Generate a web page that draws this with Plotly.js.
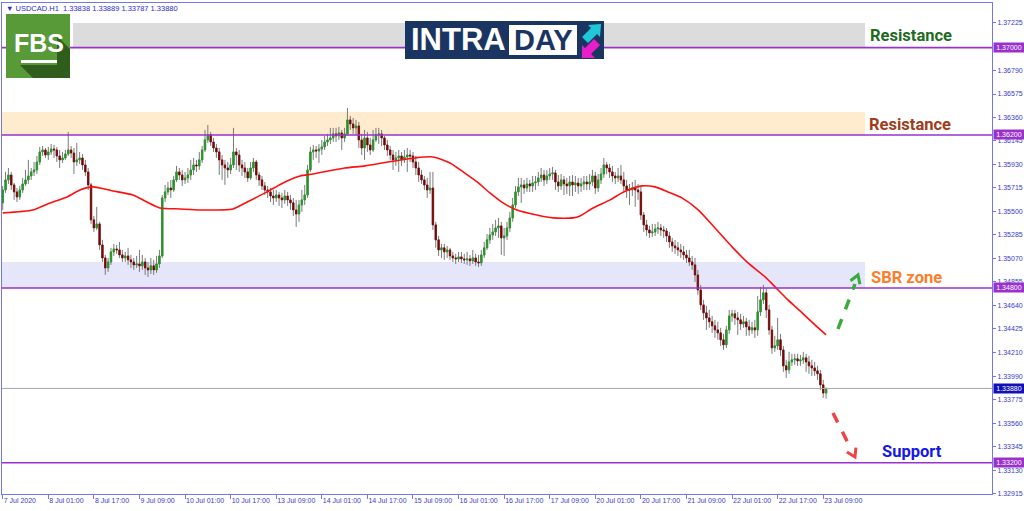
<!DOCTYPE html>
<html><head><meta charset="utf-8">
<script src="https://cdn.plot.ly/plotly-3.0.1.min.js"></script>
<style>html,body{margin:0;padding:0;background:#fff}#chart{width:1024px;height:511px}</style>
</head><body><div id="chart"></div>
<script>
// ---- data (USDCAD H1) ----
const openP = [
1.35579,1.35697,1.35789,1.35834,1.35743,1.35679,1.35633,1.35697,1.35752,1.35789,
1.35825,1.35862,1.35880,1.35953,1.36045,1.36063,1.36017,1.36045,1.36072,1.36063,
1.36008,1.35972,1.35990,1.36026,1.36063,1.36035,1.35953,1.35972,1.35990,1.35926,
1.35862,1.35743,1.35423,1.35349,1.35386,1.35194,1.35075,1.34983,1.35038,1.35130,
1.35157,1.35148,1.35102,1.35075,1.35093,1.35057,1.35038,1.35011,1.35020,1.35002,
1.35038,1.34983,1.34965,1.35002,1.34965,1.35020,1.35093,1.35624,1.35679,1.35715,
1.35697,1.35789,1.35862,1.35834,1.35789,1.35807,1.35834,1.35880,1.35926,1.35917,
1.35972,1.36063,1.36155,1.36201,1.36136,1.36081,1.36045,1.35972,1.35926,1.35898,
1.35880,1.35926,1.36045,1.36017,1.35926,1.35898,1.35862,1.35807,1.35898,1.35953,
1.35834,1.35789,1.35734,1.35697,1.35679,1.35642,1.35624,1.35651,1.35624,1.35606,
1.35642,1.35606,1.35579,1.35514,1.35477,1.35560,1.35606,1.35651,1.35880,1.36045,
1.36063,1.36054,1.36072,1.36091,1.36136,1.36155,1.36173,1.36210,1.36192,1.36219,
1.36173,1.36210,1.36338,1.36301,1.36265,1.36283,1.36155,1.36081,1.36173,1.36109,
1.36063,1.36155,1.36201,1.36210,1.36173,1.36109,1.36063,1.36017,1.35972,1.35990,
1.36008,1.35972,1.35999,1.36017,1.36008,1.35953,1.35898,1.35834,1.35789,1.35743,
1.35697,1.35715,1.35377,1.35240,1.35148,1.35167,1.35130,1.35148,1.35093,1.35075,
1.35066,1.35084,1.35066,1.35057,1.35066,1.35048,1.35075,1.35038,1.35029,1.35102,
1.35167,1.35240,1.35285,1.35313,1.35349,1.35368,1.35258,1.35276,1.35349,1.35441,
1.35560,1.35679,1.35725,1.35743,1.35715,1.35752,1.35734,1.35761,1.35770,1.35807,
1.35834,1.35789,1.35825,1.35843,1.35853,1.35770,1.35734,1.35789,1.35752,1.35734,
1.35770,1.35743,1.35761,1.35734,1.35752,1.35770,1.35752,1.35770,1.35825,1.35715,
1.35789,1.35843,1.35926,1.35898,1.35862,1.35825,1.35807,1.35825,1.35789,1.35734,
1.35697,1.35697,1.35715,1.35697,1.35679,1.35468,1.35377,1.35331,1.35304,1.35313,
1.35340,1.35349,1.35331,1.35322,1.35276,1.35221,1.35185,1.35167,1.35148,1.35130,
1.35102,1.35075,1.35038,1.35011,1.34919,1.34782,1.34645,1.34572,1.34526,1.34490,
1.34453,1.34416,1.34389,1.34325,1.34279,1.34416,1.34544,1.34563,1.34526,1.34508,
1.34471,1.34490,1.34444,1.34416,1.34435,1.34416,1.34581,1.34691,1.34755,1.34599,
1.34416,1.34252,1.34270,1.34325,1.34233,1.34087,1.34050,1.34123,1.34142,1.34151,
1.34132,1.34142,1.34160,1.34123,1.34087,1.34068,1.34041,1.34014,1.33913,1.33838];
const highP = [
1.35734,1.35862,1.35898,1.35862,1.35761,1.35715,1.35734,1.35807,1.35880,1.35972,
1.35898,1.35953,1.36008,1.36091,1.36100,1.36081,1.36091,1.36118,1.36109,1.36091,
1.36063,1.36045,1.36063,1.36228,1.36100,1.36081,1.36127,1.36045,1.36026,1.35972,
1.35898,1.35761,1.35459,1.35542,1.35405,1.35240,1.35102,1.35075,1.35167,1.35203,
1.35194,1.35221,1.35148,1.35130,1.35167,1.35102,1.35075,1.35093,1.35148,1.35102,
1.35075,1.35038,1.35075,1.35057,1.35093,1.35148,1.35651,1.35743,1.35770,1.35789,
1.35825,1.35917,1.35898,1.35880,1.35862,1.35898,1.35972,1.35990,1.35972,1.36045,
1.36100,1.36246,1.36292,1.36228,1.36173,1.36118,1.36081,1.36017,1.35972,1.35953,
1.35990,1.36265,1.36081,1.36063,1.35972,1.35953,1.35898,1.35953,1.35990,1.35972,
1.35862,1.35825,1.35770,1.35734,1.35715,1.35697,1.35697,1.35679,1.35670,1.35697,
1.35679,1.35651,1.35624,1.35606,1.35606,1.35697,1.35743,1.35926,1.36091,1.36109,
1.36100,1.36118,1.36155,1.36192,1.36210,1.36265,1.36265,1.36265,1.36274,1.36246,
1.36265,1.36447,1.36374,1.36356,1.36338,1.36319,1.36210,1.36246,1.36228,1.36173,
1.36246,1.36265,1.36265,1.36246,1.36192,1.36155,1.36100,1.36063,1.36045,1.36063,
1.36045,1.36063,1.36081,1.36063,1.36045,1.36008,1.35953,1.35880,1.35825,1.35807,
1.35862,1.35862,1.35405,1.35276,1.35203,1.35203,1.35185,1.35167,1.35130,1.35112,
1.35130,1.35130,1.35112,1.35130,1.35102,1.35148,1.35112,1.35102,1.35148,1.35221,
1.35294,1.35349,1.35386,1.35423,1.35441,1.35405,1.35349,1.35405,1.35496,1.35624,
1.35734,1.35807,1.35807,1.35789,1.35807,1.35789,1.35825,1.35825,1.35862,1.35898,
1.35880,1.35880,1.35898,1.35908,1.35880,1.35834,1.35843,1.35825,1.35807,1.35825,
1.35834,1.35825,1.35807,1.35807,1.35825,1.35825,1.35843,1.35880,1.35862,1.35843,
1.35898,1.35990,1.35953,1.35935,1.35917,1.35862,1.35898,1.35926,1.35862,1.35789,
1.35752,1.35770,1.35789,1.35752,1.35734,1.35496,1.35423,1.35368,1.35386,1.35386,
1.35405,1.35386,1.35368,1.35349,1.35313,1.35258,1.35240,1.35221,1.35203,1.35185,
1.35148,1.35148,1.35093,1.35075,1.34965,1.34828,1.34691,1.34636,1.34599,1.34544,
1.34508,1.34490,1.34435,1.34380,1.34453,1.34599,1.34599,1.34599,1.34581,1.34563,
1.34544,1.34526,1.34508,1.34490,1.34508,1.34727,1.34810,1.34828,1.34800,1.34645,
1.34453,1.34362,1.34526,1.34380,1.34270,1.34142,1.34215,1.34197,1.34197,1.34197,
1.34187,1.34215,1.34197,1.34178,1.34142,1.34123,1.34087,1.34050,1.33959,1.33889];
const lowP = [
1.35514,1.35670,1.35752,1.35697,1.35606,1.35587,1.35606,1.35670,1.35734,1.35752,
1.35789,1.35825,1.35843,1.35926,1.36008,1.35990,1.35972,1.36017,1.35990,1.35953,
1.35898,1.35944,1.35972,1.36008,1.35990,1.35843,1.35917,1.35935,1.35880,1.35825,
1.35697,1.35386,1.35313,1.35331,1.35148,1.35038,1.34919,1.34947,1.35011,1.35093,
1.35112,1.35075,1.35038,1.35038,1.35011,1.34983,1.34965,1.34983,1.34947,1.34965,
1.34919,1.34901,1.34928,1.34919,1.34938,1.34983,1.35075,1.35587,1.35651,1.35624,
1.35679,1.35770,1.35789,1.35734,1.35752,1.35761,1.35789,1.35834,1.35862,1.35880,
1.35944,1.36045,1.36127,1.36100,1.36045,1.35990,1.35834,1.35789,1.35743,1.35807,
1.35843,1.35898,1.35880,1.35862,1.35825,1.35807,1.35770,1.35789,1.35862,1.35789,
1.35734,1.35697,1.35651,1.35624,1.35587,1.35560,1.35587,1.35551,1.35532,1.35569,
1.35551,1.35514,1.35459,1.35359,1.35405,1.35496,1.35560,1.35624,1.35862,1.35972,
1.35990,1.35944,1.36017,1.36063,1.36100,1.36118,1.36136,1.36136,1.36155,1.36063,
1.36136,1.36192,1.36246,1.36210,1.36201,1.36081,1.36017,1.35972,1.36045,1.36017,
1.36045,1.36136,1.36118,1.36100,1.36063,1.36008,1.35972,1.35880,1.35917,1.35862,
1.35917,1.35944,1.35862,1.35953,1.35898,1.35834,1.35770,1.35752,1.35697,1.35624,
1.35661,1.35331,1.35167,1.35093,1.35075,1.35057,1.35075,1.35057,1.35038,1.35020,
1.35038,1.35029,1.35020,1.35011,1.35002,1.35020,1.35002,1.34992,1.35002,1.35075,
1.35148,1.35203,1.35240,1.35276,1.35258,1.35102,1.35093,1.35240,1.35313,1.35405,
1.35532,1.35642,1.35578,1.35661,1.35679,1.35679,1.35679,1.35697,1.35734,1.35770,
1.35734,1.35752,1.35789,1.35789,1.35697,1.35679,1.35697,1.35651,1.35661,1.35642,
1.35642,1.35679,1.35661,1.35679,1.35697,1.35697,1.35697,1.35734,1.35661,1.35679,
1.35752,1.35807,1.35843,1.35807,1.35770,1.35752,1.35770,1.35752,1.35679,1.35624,
1.35560,1.35642,1.35542,1.35606,1.35423,1.35313,1.35276,1.35258,1.35267,1.35276,
1.35294,1.35276,1.35258,1.35221,1.35167,1.35130,1.35112,1.35093,1.35075,1.35057,
1.35029,1.35002,1.34965,1.34855,1.34737,1.34599,1.34508,1.34416,1.34435,1.34389,
1.34343,1.34325,1.34270,1.34233,1.34252,1.34380,1.34490,1.34462,1.34371,1.34416,
1.34435,1.34362,1.34362,1.34380,1.34343,1.34362,1.34544,1.34654,1.34526,1.34371,
1.34197,1.34215,1.34233,1.34178,1.34032,1.33977,1.34014,1.34087,1.34096,1.34087,
1.34087,1.34105,1.34032,1.34014,1.33995,1.33995,1.33959,1.33867,1.33794,1.33787];
const closeP = [
1.35697,1.35789,1.35834,1.35743,1.35679,1.35633,1.35697,1.35752,1.35789,1.35825,
1.35862,1.35880,1.35953,1.36045,1.36063,1.36017,1.36045,1.36072,1.36063,1.36008,
1.35972,1.35990,1.36026,1.36063,1.36035,1.35953,1.35972,1.35990,1.35926,1.35862,
1.35743,1.35423,1.35349,1.35386,1.35194,1.35075,1.34983,1.35038,1.35130,1.35157,
1.35148,1.35102,1.35075,1.35093,1.35057,1.35038,1.35011,1.35020,1.35002,1.35038,
1.34983,1.34965,1.35002,1.34965,1.35020,1.35093,1.35624,1.35679,1.35715,1.35697,
1.35789,1.35862,1.35834,1.35789,1.35807,1.35834,1.35880,1.35926,1.35917,1.35972,
1.36063,1.36155,1.36201,1.36136,1.36081,1.36045,1.35972,1.35926,1.35898,1.35880,
1.35926,1.36045,1.36017,1.35926,1.35898,1.35862,1.35807,1.35898,1.35953,1.35834,
1.35789,1.35734,1.35697,1.35679,1.35642,1.35624,1.35651,1.35624,1.35606,1.35642,
1.35606,1.35579,1.35514,1.35477,1.35560,1.35606,1.35651,1.35880,1.36045,1.36063,
1.36054,1.36072,1.36091,1.36136,1.36155,1.36173,1.36210,1.36192,1.36219,1.36173,
1.36210,1.36338,1.36301,1.36265,1.36283,1.36155,1.36081,1.36173,1.36109,1.36063,
1.36155,1.36201,1.36210,1.36173,1.36109,1.36063,1.36017,1.35972,1.35990,1.36008,
1.35972,1.35999,1.36017,1.36008,1.35953,1.35898,1.35834,1.35789,1.35743,1.35697,
1.35715,1.35377,1.35240,1.35148,1.35167,1.35130,1.35148,1.35093,1.35075,1.35066,
1.35084,1.35066,1.35057,1.35066,1.35048,1.35075,1.35038,1.35029,1.35102,1.35167,
1.35240,1.35285,1.35313,1.35349,1.35368,1.35258,1.35276,1.35349,1.35441,1.35560,
1.35679,1.35725,1.35743,1.35715,1.35752,1.35734,1.35761,1.35770,1.35807,1.35834,
1.35789,1.35825,1.35843,1.35853,1.35770,1.35734,1.35789,1.35752,1.35734,1.35770,
1.35743,1.35761,1.35734,1.35752,1.35770,1.35752,1.35770,1.35825,1.35715,1.35789,
1.35843,1.35926,1.35898,1.35862,1.35825,1.35807,1.35825,1.35789,1.35734,1.35697,
1.35697,1.35715,1.35697,1.35679,1.35468,1.35377,1.35331,1.35304,1.35313,1.35340,
1.35349,1.35331,1.35322,1.35276,1.35221,1.35185,1.35167,1.35148,1.35130,1.35102,
1.35075,1.35038,1.35011,1.34919,1.34782,1.34645,1.34572,1.34526,1.34490,1.34453,
1.34416,1.34389,1.34325,1.34279,1.34416,1.34544,1.34563,1.34526,1.34508,1.34471,
1.34490,1.34444,1.34416,1.34435,1.34416,1.34581,1.34691,1.34755,1.34599,1.34416,
1.34252,1.34270,1.34325,1.34233,1.34087,1.34050,1.34123,1.34142,1.34151,1.34132,
1.34142,1.34160,1.34123,1.34087,1.34068,1.34041,1.34014,1.33913,1.33838,1.33880];

// moving average (red line), sampled along the bars
const maBar = [0,10.6,16.6,22.6,27.1,31.7,38.7,45.7,50.6,55.2,62.2,69.3,80.8,85.8,92.8,98.4,104.4,108.9,120.1,127.2,
135.2,144.7,151,157,161.6,166.5,171,175.6,180.5,187.5,193.2,200.2,202.6,207.2,213.2,216.7,219.5,224.4,229,233.5,
238.4,244.1,250,256,261.6,267.6,271.1,275.6,280.6,285.1,289];
const maVal = [1.35487,1.35514,1.35578,1.35633,1.35697,1.35725,1.35688,1.35651,1.35587,1.35532,
1.35523,1.35514,1.35523,1.35587,1.35679,1.35761,1.35825,1.35843,1.35898,1.35917,
1.35953,1.35990,1.35999,1.35944,1.35862,1.35770,1.35670,1.35578,1.35514,1.35468,
1.35441,1.35441,1.35459,1.35532,1.35606,1.35661,1.35697,1.35734,1.35725,1.35679,
1.35624,1.35514,1.35349,1.35176,1.35029,1.34901,1.34810,1.34691,1.34572,1.34462,1.34371];

const timeTickBars = [0,16,32,48,64,80,96,112,128,144,160,176,192,208,224,240,256,272,288];
const timeTickLabels = ['7 Jul 2020','8 Jul 01:00','8 Jul 17:00','9 Jul 09:00','10 Jul 01:00','10 Jul 17:00',
'13 Jul 09:00','14 Jul 01:00','14 Jul 17:00','15 Jul 09:00','16 Jul 01:00','16 Jul 17:00','17 Jul 09:00',
'20 Jul 01:00','20 Jul 17:00','21 Jul 09:00','22 Jul 01:00','22 Jul 17:00','23 Jul 09:00'];
const priceTicks = [1.37225,1.36790,1.36575,1.36360,1.36145,1.35930,1.35715,1.35500,1.35285,1.35070,
1.34855,1.34640,1.34425,1.34210,1.33990,1.33775,1.33560,1.33345,1.33130,1.32915];

const levelPrices = [1.37000,1.36200,1.34800,1.33200];
const bidPrice = 1.33880;
const zoneTop = [1.37225,1.36411,1.35038];
const zoneBottom = [1.37000,1.36200,1.34800];
const zoneColors = ['#dcdcdc','#ffebcd','#e6e6fa'];
const zoneStartBar = [24.7,-0.25,-0.25];
const zoneEndBar = 302.7;
const header = '\u25BC USDCAD.H1  1.33838 1.33889 1.33787 1.33880';

// ---- drawing ----
const L=2, R=992, T=3, B=494;
const px = x => (x-L)/(R-L);
const py = y => (B-y)/(B-T);
const pathOf = (pts, close) => 'M' + pts.map(p => px(p[0]) + ',' + py(p[1])).join('L') + (close ? 'Z' : '');

const bars = closeP.map((_, i) => i);
const bodyHigh = openP.map((o, i) => Math.max(o, closeP[i]));
const bodyLow = openP.map((o, i) => Math.min(o, closeP[i]));

const wickTrace = {
  type: 'candlestick', x: bars, open: openP, high: highP, low: lowP, close: closeP,
  increasing: {line: {color: '#7a7a7a', width: 1}, fillcolor: '#7a7a7a'},
  decreasing: {line: {color: '#7a7a7a', width: 1}, fillcolor: '#7a7a7a'},
  whiskerwidth: 0, hoverinfo: 'skip', showlegend: false
};
const bodyTrace = {
  type: 'candlestick', x: bars, open: openP, high: bodyHigh, low: bodyLow, close: closeP,
  increasing: {line: {color: '#1e9e1e', width: 0.6}, fillcolor: '#1e9e1e'},
  decreasing: {line: {color: '#800000', width: 0.6}, fillcolor: '#800000'},
  whiskerwidth: 0, hoverinfo: 'skip', showlegend: false
};
const maTrace = {
  type: 'scatter', mode: 'lines', x: maBar, y: maVal,
  line: {color: '#ff1010', width: 1.6, shape: 'spline', smoothing: 0.6},
  hoverinfo: 'skip', showlegend: false
};

const shapes = [];
zoneTop.forEach((t, k) => shapes.push({type: 'rect', xref: 'x', yref: 'y', x0: zoneStartBar[k], x1: zoneEndBar,
  y0: zoneBottom[k], y1: t, fillcolor: zoneColors[k], line: {width: 0}, layer: 'below'}));
levelPrices.forEach(v => shapes.push({type: 'line', xref: 'paper', yref: 'y', x0: 0, x1: 1, y0: v, y1: v,
  line: {color: '#9932cc', width: 1.6}}));
shapes.push({type: 'line', xref: 'paper', yref: 'y', x0: 0, x1: 1, y0: bidPrice, y1: bidPrice,
  line: {color: '#a8a8a8', width: 1}});
// FBS logo
shapes.push({type: 'rect', xref: 'paper', yref: 'paper', x0: px(6), x1: px(70), y0: py(78), y1: py(14),
  fillcolor: '#589a37', line: {width: 0}});
shapes.push({type: 'path', xref: 'paper', yref: 'paper', path: pathOf([[57,36],[70,49],[70,78],[33,78],[20,65],[57,65]], true),
  fillcolor: '#2f5d1c', line: {width: 0}});
shapes.push({type: 'rect', xref: 'paper', yref: 'paper', x0: px(21), x1: px(57), y0: py(63), y1: py(60),
  fillcolor: '#ffffff', line: {width: 0}});
// INTRADAY logo
shapes.push({type: 'rect', xref: 'paper', yref: 'paper', x0: px(405), x1: px(604), y0: py(59), y1: py(21),
  fillcolor: '#1b3562', line: {width: 0}});
shapes.push({type: 'rect', xref: 'paper', yref: 'paper', x0: px(509), x1: px(577), y0: py(55), y1: py(25),
  fillcolor: '#ffffff', line: {width: 0}});
shapes.push({type: 'path', xref: 'paper', yref: 'paper',
  path: pathOf([[601,24],[588,25],[591,28],[582,37],[588,43],[597,34],[600,37]], true),
  fillcolor: '#1ec8d6', line: {width: 0}});
shapes.push({type: 'path', xref: 'paper', yref: 'paper',
  path: pathOf([[582,58],[582,45],[585,48],[594,39],[600,45],[591,54],[595,58]], true),
  fillcolor: '#ea1ec9', line: {width: 0}});
// dashed arrows
shapes.push({type: 'line', xref: 'paper', yref: 'paper', x0: px(838), y0: py(329), x1: px(855), y1: py(284),
  line: {color: '#3aaa3a', width: 3.5, dash: 'dash'}});
shapes.push({type: 'path', xref: 'paper', yref: 'paper', path: pathOf([[850.5,280.7],[858,275],[859.9,284.3]], false),
  line: {color: '#3aaa3a', width: 3}, fillcolor: 'rgba(0,0,0,0)'});
shapes.push({type: 'line', xref: 'paper', yref: 'paper', x0: px(833), y0: py(413), x1: px(851), y1: py(449),
  line: {color: '#f04444', width: 3.5, dash: 'dash'}});
shapes.push({type: 'path', xref: 'paper', yref: 'paper', path: pathOf([[855.9,447.6],[855,457],[846.9,452]], false),
  line: {color: '#f04444', width: 3}, fillcolor: 'rgba(0,0,0,0)'});

const annotations = [];
const txt = (x, y, text, font, extra) => Object.assign({xref: 'paper', yref: 'paper', x: px(x), y: py(y), text: text,
  showarrow: false, font: font, xanchor: 'center', yanchor: 'middle'}, extra || {});
annotations.push(txt(4, 8, header, {family: 'Liberation Sans, Arial', size: 7.5, color: '#2a2ad2'}, {xanchor: 'left'}));
annotations.push(txt(39, 43, 'FBS', {family: 'Liberation Sans Narrow, Liberation Sans, Arial', size: 25, color: '#ffffff', weight: 700}));
annotations.push(txt(458, 40, 'INTRA', {family: 'Liberation Sans, Arial', size: 31, color: '#ffffff', weight: 700}));
annotations.push(txt(543, 40, 'DAY', {family: 'Liberation Sans, Arial', size: 29, color: '#1b3562', weight: 700}));
annotations.push(txt(911, 35, 'Resistance', {family: 'Roboto, Liberation Sans', size: 16.5, color: '#1f6b1f', weight: 700}));
annotations.push(txt(910, 124, 'Resistance', {family: 'Roboto, Liberation Sans', size: 16.5, color: '#a03c1c', weight: 700}));
annotations.push(txt(906, 277, 'SBR zone', {family: 'Roboto, Liberation Sans', size: 16.5, color: '#ff7d2a', weight: 700}));
annotations.push(txt(912, 451, 'Support', {family: 'Roboto, Liberation Sans', size: 16.5, color: '#1616e6', weight: 700}));
levelPrices.forEach(v => annotations.push({xref: 'paper', yref: 'y', x: 1, y: v, xanchor: 'left', yanchor: 'middle',
  xshift: 1, text: v.toFixed(5), showarrow: false, bgcolor: '#9932cc', width: 29, height: 8, borderpad: 0.5,
  font: {family: 'Liberation Sans, Arial', size: 7, color: '#ffffff'}}));
annotations.push({xref: 'paper', yref: 'y', x: 1, y: bidPrice, xanchor: 'left', yanchor: 'middle',
  xshift: 1, text: bidPrice.toFixed(5), showarrow: false, bgcolor: '#1010b4', width: 29, height: 8, borderpad: 0.5,
  font: {family: 'Liberation Sans, Arial', size: 7, color: '#ffffff'}});

const axisColor = '#7676ec';
const tickFont = {family: 'Liberation Sans, Arial', size: 7, color: '#3a3ac8'};
const layout = {
  width: 1024, height: 511,
  margin: {l: L, r: 1024 - R, t: T, b: 511 - B, pad: 0},
  paper_bgcolor: '#ffffff', plot_bgcolor: '#ffffff',
  showlegend: false,
  xaxis: {type: 'linear', range: [-0.25, 347.24], showgrid: false, zeroline: false,
    showline: true, mirror: true, linecolor: axisColor, linewidth: 1,
    tickmode: 'array', tickvals: timeTickBars, ticktext: timeTickLabels, tickangle: 0,
    ticks: 'outside', ticklen: 4, tickcolor: axisColor, tickfont: tickFont,
    ticklabelposition: 'outside right', rangeslider: {visible: false}, fixedrange: true},
  yaxis: {side: 'right', range: [1.32914, 1.37408], showgrid: false, zeroline: false,
    showline: true, mirror: true, linecolor: axisColor, linewidth: 1,
    tickmode: 'array', tickvals: priceTicks, ticktext: priceTicks.map(v => v.toFixed(5)),
    ticks: 'outside', ticklen: 3, tickcolor: axisColor, tickfont: tickFont, fixedrange: true},
  shapes: shapes,
  annotations: annotations
};

Plotly.newPlot('chart', [wickTrace, bodyTrace, maTrace], layout, {staticPlot: true, displayModeBar: false});
</script>
</body></html>
